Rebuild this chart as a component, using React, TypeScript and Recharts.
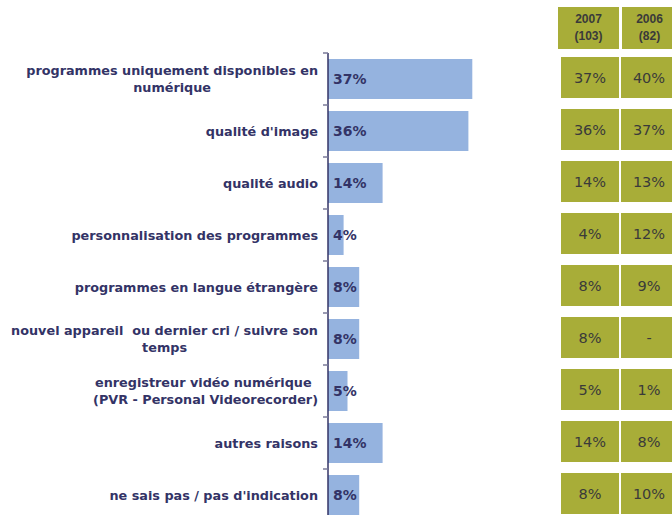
import React from 'react'
import { BarChart, Bar, XAxis, YAxis, LabelList } from 'recharts'

const categories = [
  'programmes uniquement disponibles en\nnumérique',
  "qualité d'image",
  'qualité audio',
  'personnalisation des programmes',
  'programmes en langue étrangère',
  'nouvel appareil  ou dernier cri / suivre son\ntemps',
  'enregistreur vidéo numérique \n(PVR - Personal Videorecorder)',
  'autres raisons',
  "ne sais pas / pas d'indication",
]
const values2007 = [37, 36, 14, 4, 8, 8, 5, 14, 8]
const values2006: (number | null)[] = [40, 37, 13, 12, 9, null, 1, 8, 10]
const headerYears = ['2007', '2006']
const headerBases = ['(103)', '(82)']

const data = categories.map((label, i) => ({ label, value: values2007[i] }))

const NAVY = '#333366'
const OLIVE = '#a8ad38'
const BAR = '#95b3df'
const LABEL_FONT = 'bold 12.8px "DejaVu Sans"'

// mesure du texte pour centrer les libellés sur plusieurs lignes
const ctx = document.createElement('canvas').getContext('2d')!
const textWidth = (s: string) => {
  ctx.font = LABEL_FONT
  return ctx.measureText(s).width
}

const CategoryTick = ({ y, payload }: any) => {
  const lines = String(payload.value).split('\n')
  const w = Math.max(...lines.map(textWidth))
  const cx = 318 - w / 2
  const lh = 17
  const y0 = y - ((lines.length - 1) * lh) / 2
  return (
    <g>
      <line x1={323} x2={328} y1={y - 26} y2={y - 26} stroke="#7a7a99" strokeWidth={1.5} />
      <text
        textAnchor="middle"
        fill={NAVY}
        style={{ font: LABEL_FONT, whiteSpace: 'pre' }}
      >
        {lines.map((l, i) => (
          <tspan key={i} x={cx} y={y0 + i * lh} dy="0.36em">{l}</tspan>
        ))}
      </text>
    </g>
  )
}

const cols = [
  { x: 561, w: 58 },
  { x: 621, w: 56 },
]

const TableTick = ({ y, payload }: any) => {
  const i = payload.index
  const vals = [values2007[i], values2006[i]]
  return (
    <g>
      {vals.map((v, c) => (
        <g key={c}>
          <rect x={cols[c].x} y={y - 22} width={cols[c].w} height={41} fill={OLIVE} />
          <text
            x={cols[c].x + cols[c].w / 2}
            y={y - 1.5}
            dy="0.36em"
            textAnchor="middle"
            fill="#3a3a3a"
            style={{ font: '14.5px "DejaVu Sans"' }}
          >
            {v == null ? '-' : `${v}%`}
          </text>
        </g>
      ))}
    </g>
  )
}

const headerCols = [
  { x: 558, w: 61 },
  { x: 622, w: 55 },
]

export default function App() {
  return (
    <div style={{ position: 'fixed', left: 0, top: 0, width: 672, height: 515, overflow: 'hidden', background: '#fff' }}>
      {headerCols.map((c, i) => (
        <div
          key={i}
          style={{
            position: 'absolute', left: c.x, top: 7, width: c.w, height: 42, background: OLIVE,
            display: 'flex', flexDirection: 'column', alignItems: 'center', justifyContent: 'center',
            font: 'bold 12px "Liberation Sans", Arial, sans-serif', color: '#3a3a3a', lineHeight: '17px',
          }}
        >
          <span>{headerYears[i]}</span>
          <span>{headerBases[i]}</span>
        </div>
      ))}
      <BarChart
        width={672}
        height={530}
        data={data}
        layout="vertical"
        margin={{ top: 53, right: 0, bottom: 9, left: 0 }}
      >
        <XAxis type="number" domain={[0, 50]} hide />
        <YAxis
          yAxisId="left"
          type="category"
          dataKey="label"
          width={328}
          axisLine={{ stroke: NAVY, strokeWidth: 1.5 }}
          tickLine={false}
          tick={<CategoryTick />}
          interval={0}
        />
        <YAxis
          yAxisId="table"
          orientation="right"
          type="category"
          dataKey="label"
          width={149}
          axisLine={false}
          tickLine={false}
          tick={<TableTick />}
          interval={0}
        />
        <Bar dataKey="value" yAxisId="left" fill={BAR} barSize={40} isAnimationActive={false}>
          <LabelList
            dataKey="value"
            position="insideLeft"
            offset={5}
            formatter={(v: any) => `${v}%`}
            style={{ font: 'bold 14px "DejaVu Sans"', fill: NAVY }}
          />
        </Bar>
      </BarChart>
    </div>
  )
}
